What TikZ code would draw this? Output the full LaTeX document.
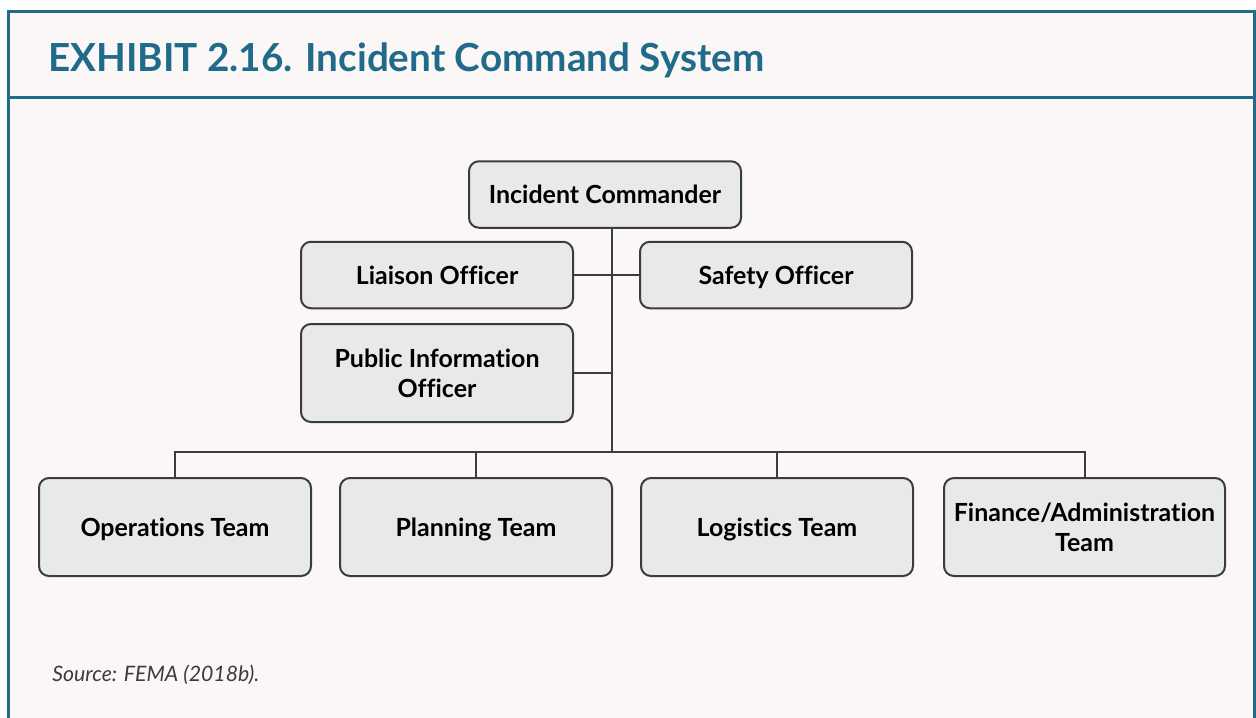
\documentclass[tikz,border=0pt]{standalone}
\usepackage{fontspec}
\setmainfont{Lato}[Ligatures=NoCommon]
\usepackage{xcolor}
\usepackage{tikz}
\usetikzlibrary{positioning}

\definecolor{exhibitteal}{HTML}{1F6B89}
\definecolor{panelbg}{HTML}{FAF7F6}
\definecolor{boxfill}{HTML}{E8E9EB}
\definecolor{boxline}{HTML}{3C3C3C}

\begin{document}
\begin{tikzpicture}[
    node distance=0.54cm,
    role/.style={rectangle, rounded corners=0.2cm, draw=boxline, line width=0.04cm, fill=boxfill, minimum width=5.44cm, minimum height=1.33cm, align=center, text depth=0pt, font=\fontsize{14.2}{17}\selectfont\bfseries},
    team/.style={role, minimum height=1.96cm},
    link/.style={draw=boxline, line width=0.04cm}
]

\useasboundingbox (0,0) rectangle (25.12,-14.34);
\fill[panelbg] (0.17,-0.22) rectangle (25.09,-15);
\draw[exhibitteal, line width=0.06cm] (0.17,-15) |- (25.09,-0.22) -- (25.09,-15);
\draw[exhibitteal, line width=0.06cm] (0.17,-1.95) -- (25.09,-1.95);

\node[anchor=base west, inner sep=0pt, text=exhibitteal, font=\fontsize{22}{26}\selectfont\bfseries] (title) at (0.96,-1.42) {EXHIBIT 2.16. Incident Command System};

\node[role] (ic) at (12.1,-3.89) {Incident Commander};
\node[role] (liaison) at (8.74,-5.5) {Liaison Officer};
\node[role] (safety) at (15.52,-5.5) {Safety Officer};
\node[role, minimum height=1.96cm] (pio) at (8.74,-7.46) {Public Information\\Officer};

\node[team] (ops) at (3.5,-10.54) {Operations Team};
\node[team, right=of ops] (plan) {Planning Team};
\node[team, right=of plan] (log) {Logistics Team};
\node[team, right=0.58cm of log, minimum width=5.62cm] (fin) {Finance/Administration\\Team};

\coordinate (bus) at (12.24,-9.04);

\draw[link] (ic.south -| bus) -- (bus);
\draw[link] (liaison.east) -- (safety.west);
\draw[link] (pio.east) -- (pio.east -| bus);
\draw[link] (ops.north) |- (bus) -| (fin.north);
\draw[link] (plan.north) -- (plan.north |- bus);
\draw[link] (log.north) -- (log.north |- bus);

\node[anchor=base west, inner sep=0pt, text=boxline, font=\fontsize{12.1}{14}\selectfont\itshape] (source) at (1.04,-13.62) {Source: FEMA (2018b).};

\end{tikzpicture}
\end{document}
